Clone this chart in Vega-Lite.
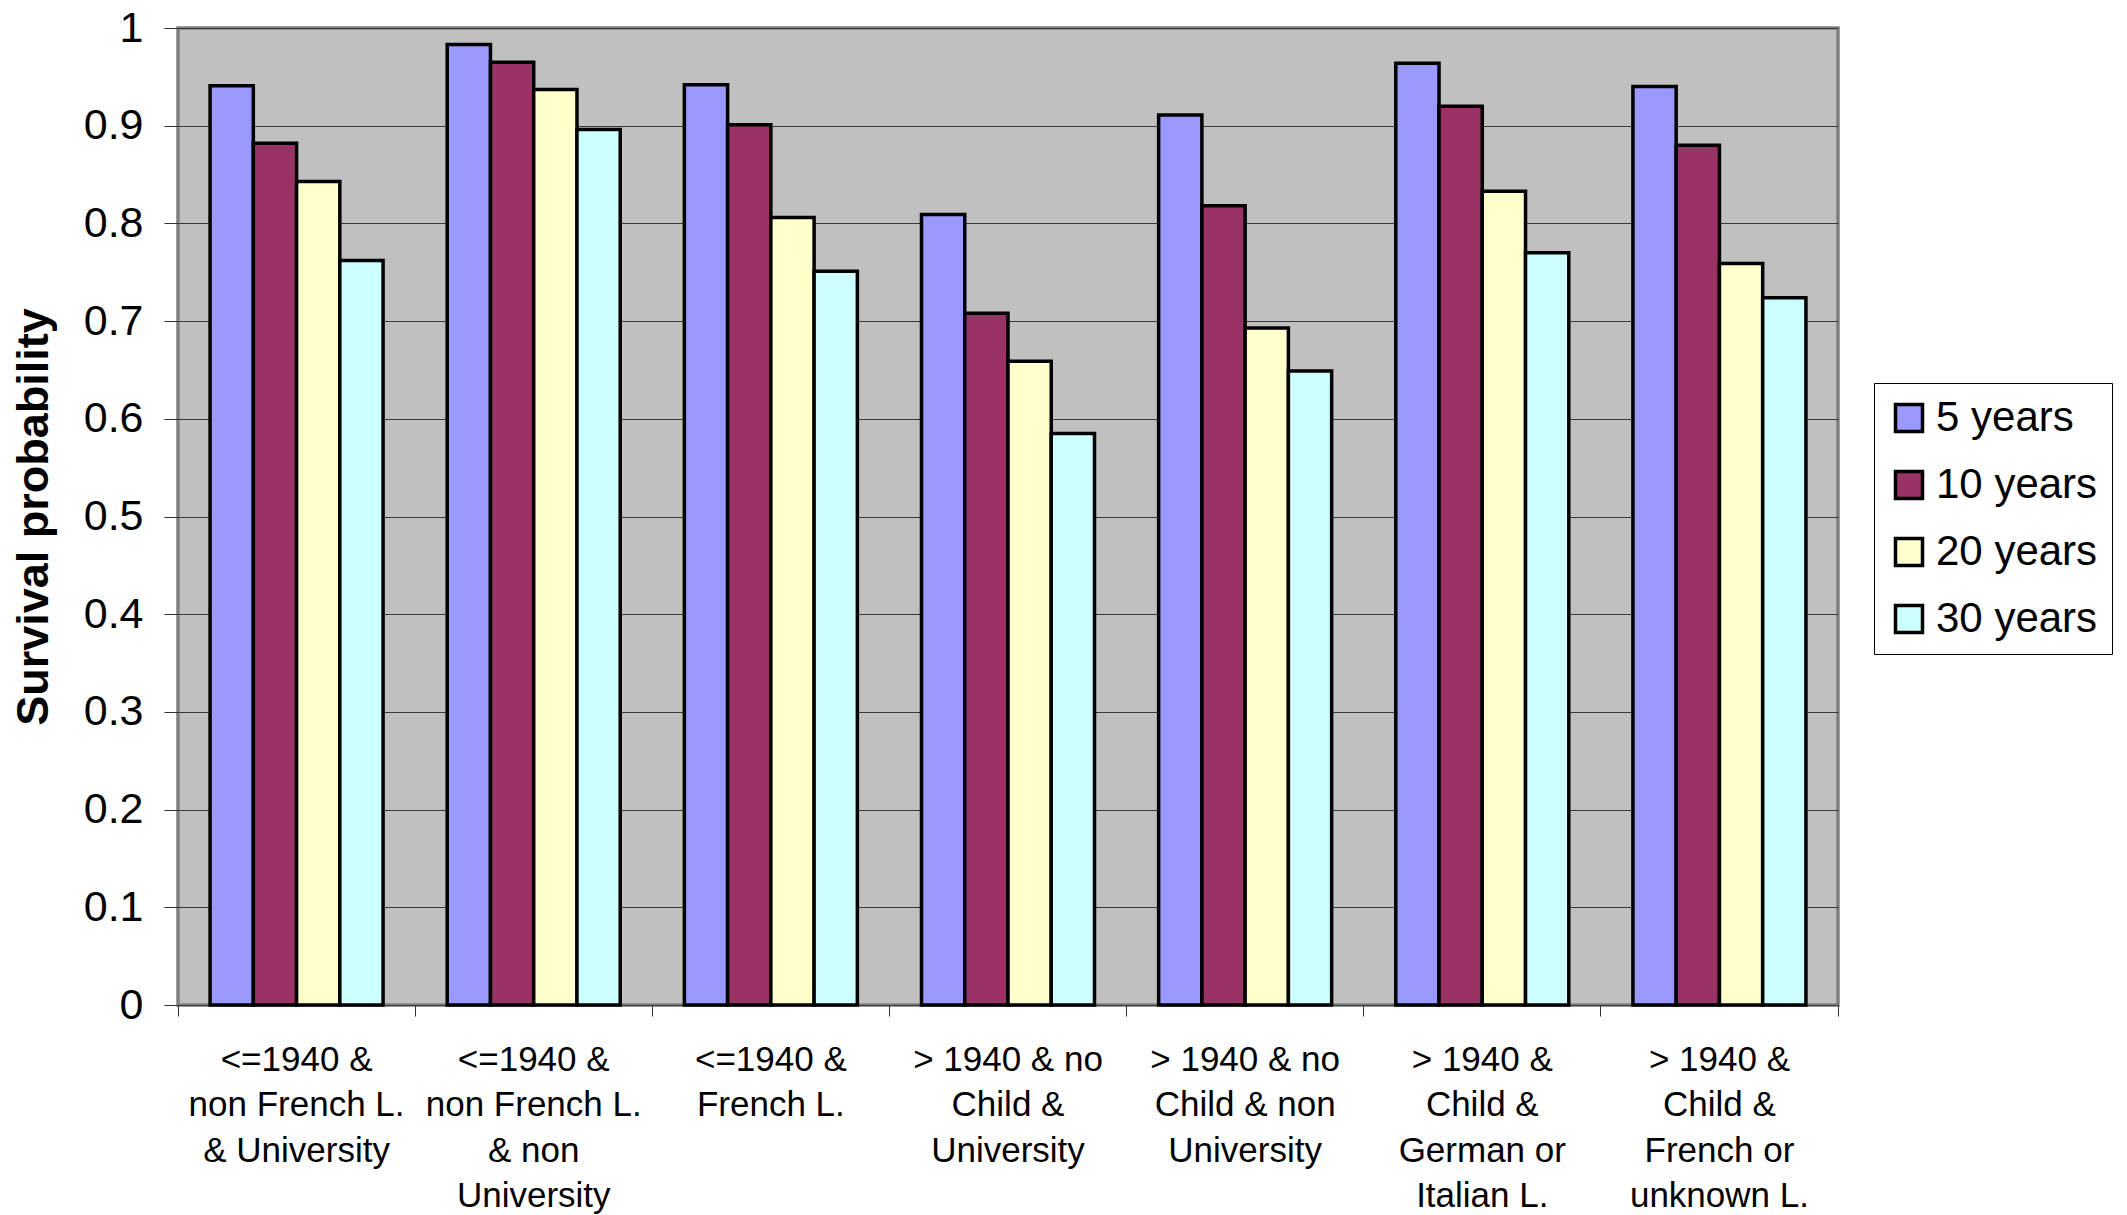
{
  "$schema": "https://vega.github.io/schema/vega-lite/v6.json",
  "autosize": {"type": "none"},
  "width": 1660,
  "height": 977,
  "padding": {"left": 178, "top": 28, "right": 289, "bottom": 210},
  "background": "white",
  "config": {
    "font": "Liberation Sans",
    "view": {"fill": "#C0C0C0", "stroke": "#808080", "strokeWidth": 3.5}
  },
  "data": {
    "values": [
      {"group": "<=1940 &|non French L.|& University", "period": "5 years", "probability": 0.941},
      {"group": "<=1940 &|non French L.|& University", "period": "10 years", "probability": 0.882},
      {"group": "<=1940 &|non French L.|& University", "period": "20 years", "probability": 0.843},
      {"group": "<=1940 &|non French L.|& University", "period": "30 years", "probability": 0.762},
      {"group": "<=1940 &|non French L.|& non|University", "period": "5 years", "probability": 0.983},
      {"group": "<=1940 &|non French L.|& non|University", "period": "10 years", "probability": 0.965},
      {"group": "<=1940 &|non French L.|& non|University", "period": "20 years", "probability": 0.937},
      {"group": "<=1940 &|non French L.|& non|University", "period": "30 years", "probability": 0.896},
      {"group": "<=1940 &|French L.", "period": "5 years", "probability": 0.942},
      {"group": "<=1940 &|French L.", "period": "10 years", "probability": 0.901},
      {"group": "<=1940 &|French L.", "period": "20 years", "probability": 0.806},
      {"group": "<=1940 &|French L.", "period": "30 years", "probability": 0.751},
      {"group": "> 1940 & no|Child &|University", "period": "5 years", "probability": 0.809},
      {"group": "> 1940 & no|Child &|University", "period": "10 years", "probability": 0.708},
      {"group": "> 1940 & no|Child &|University", "period": "20 years", "probability": 0.659},
      {"group": "> 1940 & no|Child &|University", "period": "30 years", "probability": 0.585},
      {"group": "> 1940 & no|Child & non|University", "period": "5 years", "probability": 0.911},
      {"group": "> 1940 & no|Child & non|University", "period": "10 years", "probability": 0.818},
      {"group": "> 1940 & no|Child & non|University", "period": "20 years", "probability": 0.693},
      {"group": "> 1940 & no|Child & non|University", "period": "30 years", "probability": 0.649},
      {"group": "> 1940 &|Child &|German or|Italian L.", "period": "5 years", "probability": 0.964},
      {"group": "> 1940 &|Child &|German or|Italian L.", "period": "10 years", "probability": 0.92},
      {"group": "> 1940 &|Child &|German or|Italian L.", "period": "20 years", "probability": 0.833},
      {"group": "> 1940 &|Child &|German or|Italian L.", "period": "30 years", "probability": 0.77},
      {"group": "> 1940 &|Child &|French or|unknown L.", "period": "5 years", "probability": 0.94},
      {"group": "> 1940 &|Child &|French or|unknown L.", "period": "10 years", "probability": 0.88},
      {"group": "> 1940 &|Child &|French or|unknown L.", "period": "20 years", "probability": 0.759},
      {"group": "> 1940 &|Child &|French or|unknown L.", "period": "30 years", "probability": 0.724}
    ]
  },
  "mark": {"type": "bar", "stroke": "black", "strokeWidth": 3.5},
  "encoding": {
    "x": {
      "field": "group",
      "type": "nominal",
      "sort": null,
      "scale": {"paddingInner": 0, "paddingOuter": 0},
      "axis": {
        "title": null,
        "labelAngle": 0,
        "labelFontSize": 35,
        "labelColor": "black",
        "labelLineHeight": 45.5,
        "labelPadding": 26,
        "labelBaseline": "top",
        "labelAlign": "center",
        "labelLimit": 0,
        "labelOverlap": false,
        "labelExpr": "split(datum.label, '|')",
        "bandPosition": 1,
        "tickExtra": true,
        "tickSize": 11,
        "tickColor": "#333333",
        "tickWidth": 1,
        "domain": false,
        "grid": false
      }
    },
    "xOffset": {
      "field": "period",
      "type": "nominal",
      "sort": ["5 years", "10 years", "20 years", "30 years"],
      "scale": {"paddingInner": 0, "paddingOuter": 0.7415}
    },
    "y": {
      "field": "probability",
      "type": "quantitative",
      "scale": {"domain": [0, 1], "nice": false},
      "axis": {
        "title": "Survival probability",
        "titleFontSize": 45,
        "titleFontWeight": "bold",
        "titleColor": "black",
        "titleX": -131,
        "titleY": 488.5,
        "titleAngle": -90,
        "titleAlign": "center",
        "titleBaseline": "alphabetic",
        "values": [0, 0.1, 0.2, 0.3, 0.4, 0.5, 0.6, 0.7, 0.8, 0.9, 1],
        "format": ".1~f",
        "labelFontSize": 43,
        "labelColor": "black",
        "labelPadding": 21,
        "tickSize": 14,
        "tickColor": "#333333",
        "tickWidth": 1,
        "grid": true,
        "gridColor": "#3a3a3a",
        "gridWidth": 1,
        "domain": false
      }
    },
    "color": {
      "field": "period",
      "type": "nominal",
      "sort": ["5 years", "10 years", "20 years", "30 years"],
      "scale": {
        "domain": ["5 years", "10 years", "20 years", "30 years"],
        "range": ["#9999FF", "#993366", "#FFFFCC", "#CCFFFF"]
      },
      "legend": {
        "title": null,
        "orient": "none",
        "legendX": 1696,
        "legendY": 355,
        "symbolType": "square",
        "symbolSize": 729,
        "symbolStrokeColor": "black",
        "symbolStrokeWidth": 3.5,
        "symbolOpacity": 1,
        "labelFontSize": 42,
        "labelColor": "black",
        "labelLimit": 400,
        "labelOffset": 6,
        "rowPadding": 25,
        "padding": 14,
        "strokeColor": "black",
        "fillColor": "white"
      }
    }
  }
}
